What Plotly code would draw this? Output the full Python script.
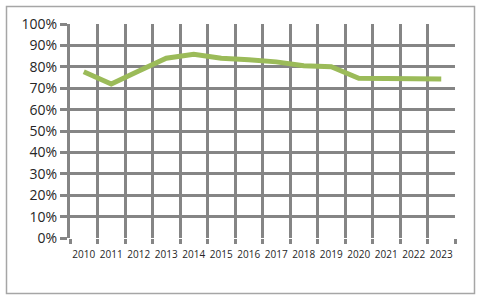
import plotly.graph_objects as go

years = ["2010", "2011", "2012", "2013", "2014", "2015", "2016",
         "2017", "2018", "2019", "2020", "2021", "2022", "2023"]
values = [0.777, 0.72, 0.78, 0.84, 0.858, 0.84, 0.833,
          0.823, 0.805, 0.80, 0.746, 0.744, 0.744, 0.743]
y_ticks = [i / 10 for i in range(11)]
y_labels = [f"{i * 10}%" for i in range(11)]

W, H = 480, 298
L, R, T, B = 70, 25, 24, 60
pw, ph = W - L - R, H - T - B

grid_col = "#858585"

fig = go.Figure()
fig.add_trace(go.Scatter(
    x=years, y=values, mode="lines",
    line=dict(color="#9BBB59", width=5),
    hoverinfo="skip", showlegend=False,
))

fig.update_layout(
    width=W, height=H,
    margin=dict(l=L, r=R, t=T, b=B),
    paper_bgcolor="white", plot_bgcolor="white",
    font=dict(family="Open Sans", color="#262626"),
    xaxis=dict(
        type="category", range=[-0.5, len(years) - 0.5],
        tickson="boundaries", showgrid=True, gridcolor=grid_col, gridwidth=3,
        ticks="outside", ticklen=5, tickwidth=3, tickcolor=grid_col,
        tickfont=dict(size=10), tickangle=0, showline=False, zeroline=False,
        ticklabelstandoff=9, fixedrange=True,
    ),
    yaxis=dict(
        range=[0, 1], tickvals=y_ticks, ticktext=y_labels,
        showgrid=True, gridcolor=grid_col, gridwidth=3,
        ticks="outside", ticklen=7, tickwidth=3, tickcolor=grid_col,
        tickfont=dict(size=14), showline=True, linecolor=grid_col,
        linewidth=3, zeroline=False, fixedrange=True,
    ),
    shapes=[dict(
        type="rect", xref="paper", yref="paper",
        x0=(6.5 - L) / pw, x1=(474.5 - L) / pw,
        y0=(H - B - 293.5) / ph, y1=(H - B - 6.5) / ph,
        line=dict(color="#a6a6a6", width=1.5), layer="below",
    )],
)

fig.write_html("out.html")
